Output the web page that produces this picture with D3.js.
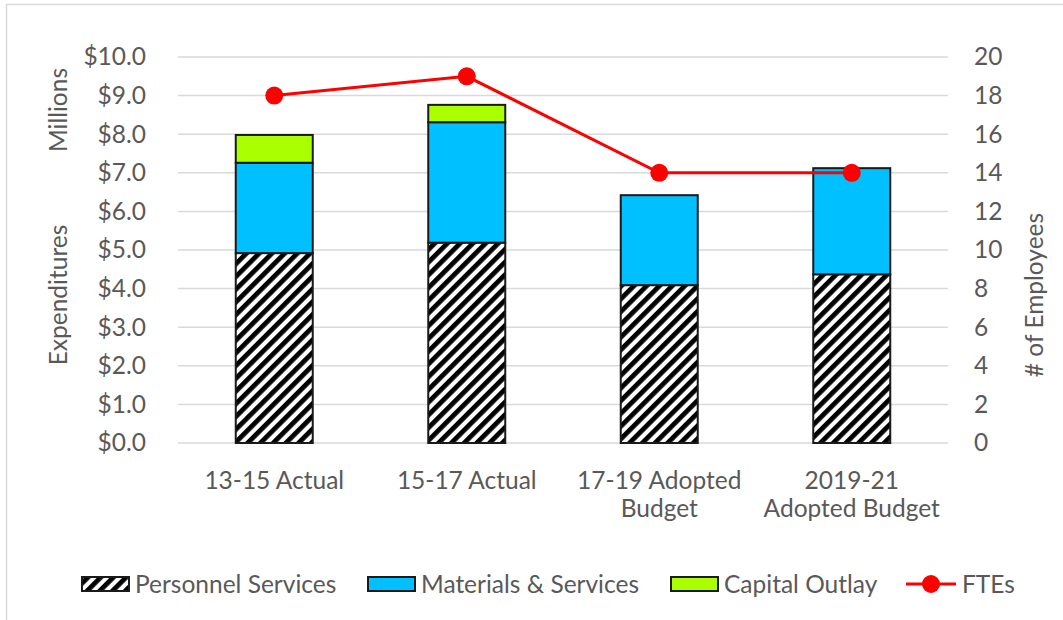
<!DOCTYPE html>
<html>
<head>
<meta charset="utf-8">
<script src="https://cdnjs.cloudflare.com/ajax/libs/d3/7.8.5/d3.min.js"></script>
<style>
  html, body { margin: 0; padding: 0; background: #fff; }
  svg text { font-family: Lato, "Open Sans", sans-serif; fill: #595959; }
</style>
</head>
<body>
<svg id="chart" width="1063" height="620"></svg>
<script>
// Biennium periods (two-line labels)
const categories = ["13-15 Actual", "15-17 Actual", "17-19 Adopted Budget", "2019-21 Adopted Budget"];
const categoryLines = [["13-15 Actual"], ["15-17 Actual"], ["17-19 Adopted", "Budget"], ["2019-21", "Adopted Budget"]];

// Expenditures, $ millions
const personnel = [4.92, 5.19, 4.09, 4.37];
const materials = [2.34, 3.12, 2.33, 2.75];
const capital   = [0.72, 0.45, 0.00, 0.00];

// Full-time equivalent staff
const ftes = [18, 19, 14, 14];

const leftTicks  = [0, 1, 2, 3, 4, 5, 6, 7, 8, 9, 10];
const rightTicks = [0, 2, 4, 6, 8, 10, 12, 14, 16, 18, 20];

const seriesNames = ["Personnel Services", "Materials & Services", "Capital Outlay"];
const seriesColors = ["url(#hatch)", "#00c0ff", "#aaff00"];

const FS = 24.5;
const svg = d3.select("#chart");
const margin = { left: 178, right: 948, top: 57, bottom: 443 };

// Hatch fill for personnel services
const defs = svg.append("defs");
const pat = defs.append("pattern")
  .attr("id", "hatch")
  .attr("patternUnits", "userSpaceOnUse")
  .attr("width", 9).attr("height", 9)
  .attr("patternTransform", "rotate(45)");
pat.append("rect").attr("width", 9).attr("height", 9).attr("fill", "#fff");
pat.append("rect").attr("x", 0).attr("width", 4.8).attr("height", 9).attr("fill", "#000");

// Outer frame
svg.append("rect")
  .attr("x", 6.5).attr("y", 4.5).attr("width", 1100).attr("height", 700)
  .attr("fill", "none").attr("stroke", "#d9d9d9").attr("stroke-width", 1.5);

const x = d3.scaleBand().domain(categories).range([margin.left, margin.right]).paddingInner(0.6).paddingOuter(0.3);
const y = d3.scaleLinear().domain([0, 10]).range([margin.bottom, margin.top]);
const y2 = d3.scaleLinear().domain([0, 20]).range([margin.bottom, margin.top]);

// Gridlines
svg.append("g").selectAll("line").data(leftTicks).join("line")
  .attr("x1", margin.left).attr("x2", margin.right)
  .attr("y1", d => y(d)).attr("y2", d => y(d))
  .attr("stroke", "#d9d9d9").attr("stroke-width", 1.5);

// Left axis labels
const leftAxis = d3.axisLeft(y).tickValues(leftTicks).tickSize(0).tickPadding(0)
  .tickFormat(d => "$" + d3.format(".1f")(d));
const gl = svg.append("g").attr("transform", "translate(146,0)").call(leftAxis);
gl.select(".domain").remove();
gl.selectAll("text").attr("font-size", FS).attr("fill", "#595959").style("font-family", "Lato, sans-serif");

// Right axis labels
const rightAxis = d3.axisRight(y2).tickValues(rightTicks).tickSize(0).tickPadding(0);
const gr = svg.append("g").attr("transform", "translate(974,0)").call(rightAxis);
gr.select(".domain").remove();
gr.selectAll("text").attr("font-size", FS).attr("fill", "#595959").style("font-family", "Lato, sans-serif");

// Axis titles
svg.append("text").attr("transform", "translate(67,110) rotate(-90)")
  .attr("text-anchor", "middle").attr("font-size", FS).text("Millions");
svg.append("text").attr("transform", "translate(67,295) rotate(-90)")
  .attr("text-anchor", "middle").attr("font-size", FS).text("Expenditures");
svg.append("text").attr("transform", "translate(1043,295) rotate(-90)")
  .attr("text-anchor", "middle").attr("font-size", FS).text("# of Employees");

// Stacked bars
const rows = categories.map((c, i) => ({ cat: c, p: personnel[i], m: materials[i], k: capital[i] }));
const stack = d3.stack().keys(["p", "m", "k"])(rows);
const gb = svg.append("g");
stack.forEach((layer, li) => {
  gb.append("g").selectAll("rect").data(layer.filter(d => d[1] - d[0] > 0)).join("rect")
    .attr("x", d => x(d.data.cat))
    .attr("width", x.bandwidth())
    .attr("y", d => y(d[1]))
    .attr("height", d => y(d[0]) - y(d[1]))
    .attr("fill", seriesColors[li])
    .attr("stroke", "#1a1a1a").attr("stroke-width", 2);
});

// Category labels
const gx = svg.append("g");
categories.forEach((c, i) => {
  const t = gx.append("text").attr("text-anchor", "middle").attr("font-size", FS)
    .attr("x", x(c) + x.bandwidth() / 2).attr("y", 489);
  categoryLines[i].forEach((ln, j) => {
    t.append("tspan").attr("x", x(c) + x.bandwidth() / 2).attr("dy", j === 0 ? 0 : 28).text(ln);
  });
});

// FTE line
const line = d3.line().x((d, i) => x(categories[i]) + x.bandwidth() / 2).y(d => y2(d));
svg.append("path").datum(ftes).attr("d", line)
  .attr("fill", "none").attr("stroke", "#ff0000").attr("stroke-width", 3);
svg.append("g").selectAll("circle").data(ftes).join("circle")
  .attr("cx", (d, i) => x(categories[i]) + x.bandwidth() / 2)
  .attr("cy", d => y2(d)).attr("r", 9).attr("fill", "#ff0000");

// Legend
const lg = svg.append("g");
const ly = 584;
const swX = [82, 368, 671];
seriesNames.forEach((n, i) => {
  lg.append("rect").attr("x", swX[i]).attr("y", ly - 7).attr("width", 47).attr("height", 14)
    .attr("fill", seriesColors[i]).attr("stroke", "#1a1a1a").attr("stroke-width", 2);
  lg.append("text").attr("x", swX[i] + 53).attr("y", ly).attr("dy", "0.35em")
    .attr("font-size", FS).text(n);
});
lg.append("line").attr("x1", 906).attr("x2", 956).attr("y1", ly).attr("y2", ly)
  .attr("stroke", "#ff0000").attr("stroke-width", 3);
lg.append("circle").attr("cx", 931).attr("cy", ly).attr("r", 9).attr("fill", "#ff0000");
lg.append("text").attr("x", 962).attr("y", ly).attr("dy", "0.35em").attr("font-size", FS).text("FTEs");
</script>
</body>
</html>
